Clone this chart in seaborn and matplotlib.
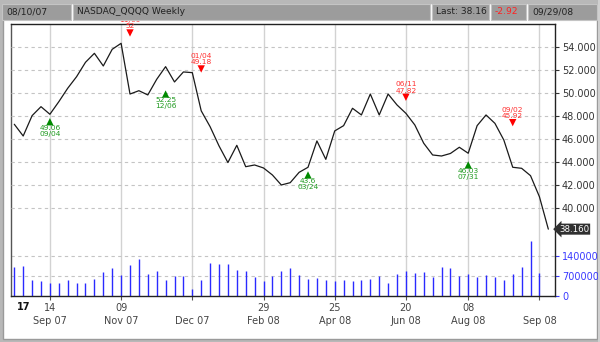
import numpy as np
import pandas as pd
import matplotlib
matplotlib.use("Agg")
import matplotlib.pyplot as plt
import seaborn as sns
from matplotlib.patches import Rectangle

# ---------------- data ----------------
week = list(range(61))
price = [47.28, 46.26, 48.03, 48.81, 48.15, 49.24, 50.41, 51.42, 52.67, 53.45,
         52.35, 53.80, 54.32, 49.91, 50.20, 49.83, 51.19, 52.29, 50.96, 51.83,
         51.77, 48.45, 47.07, 45.40, 43.95, 45.45, 43.59, 43.74, 43.48, 42.87,
         42.00, 42.20, 43.10, 43.54, 45.83, 44.23, 46.70, 47.16, 48.67, 48.09,
         49.91, 48.09, 49.91, 48.96, 48.23, 47.22, 45.63, 44.61, 44.52, 44.74,
         45.28, 44.76, 47.16, 48.09, 47.36, 45.91, 43.54, 43.45, 42.81, 40.98,
         38.16]
volume = [1010000, 1060000, 560000, 520000, 460000, 460000, 550000, 440000, 460000, 600000,
          850000, 990000, 730000, 1100000, 1290000, 760000, 890000, 550000, 690000, 690000,
          220000, 550000, 1160000, 1140000, 1140000, 920000, 890000, 650000, 530000, 690000,
          860000, 970000, 730000, 580000, 630000, 550000, 530000, 570000, 530000, 550000,
          600000, 710000, 440000, 780000, 860000, 820000, 840000, 650000, 1030000, 980000,
          690000, 780000, 650000, 730000, 650000, 570000, 780000, 1030000, 1930000, 820000,
          0]

tick_pos = [4, 12, 20, 28, 36, 44, 51, 59]
tick_day = ["14", "09", "", "29", "25", "20", "08", ""]
tick_month = ["Sep 07", "Nov 07", "Dec 07", "Feb 08", "Apr 08", "Jun 08", "Aug 08", "Sep 08"]

sell_idx = [13, 21, 44, 56]
sell_y = [55.22, 52.09, 49.63, 47.42]
sell_date = ["11/09", "01/04", "06/11", "09/02"]
sell_val = ["52", "49.18", "47.82", "45.92"]

buy_idx = [4, 17, 33, 51]
buy_y = [47.50, 49.91, 42.87, 43.74]
buy_val = ["49.06", "52.25", "43.6", "46.03"]
buy_date = ["09/04", "12/06", "03/24", "07/31"]

price_ticks = [40, 42, 44, 46, 48, 50, 52, 54]
vol_ticks = [0, 700000, 1400000]
last_value = 38.16

header = ["08/10/07", "NASDAQ_QQQQ Weekly", "Last: 38.16", "-2.92", "09/29/08"]
header_colors = ["#222222", "#222222", "#222222", "#ff2222", "#222222"]

# ---------------- figure ----------------
sns.set_style("white")
plt.rcParams['font.family'] = ['DejaVu Sans']

W, H = 600, 342
fig = plt.figure(figsize=(6, 3.42), dpi=100, facecolor='#b8b8b8')

def fx(x):
    return x / W

def fy(y):
    return 1 - y / H

# white panel
fig.patches.append(Rectangle((fx(3), fy(339)), (597 - 3) / W, (339 - 3) / H,
                             transform=fig.transFigure, facecolor='white',
                             edgecolor='#9a9a9a', lw=1, zorder=-1))

# header cells
cells = [(2, 71), (73, 430), (432, 489), (491, 526), (528, 597)]
for (x0, x1), txt, col in zip(cells, header, header_colors):
    fig.patches.append(Rectangle((fx(x0), fy(19.5)), (x1 - x0) / W, 15.5 / H,
                                 transform=fig.transFigure, facecolor='#9c9c9c',
                                 edgecolor='#c4c4c4', lw=0.8, zorder=10))
    fig.text(fx(x0 + 4), fy(11.8), txt, color=col, fontsize=6.6,
             ha='left', va='center', zorder=11)
# strip above header
fig.patches.append(Rectangle((0, fy(4)), 1, 4 / H, transform=fig.transFigure,
                             facecolor='#b8b8b8', edgecolor='none', zorder=9))
# right clipping strip
fig.patches.append(Rectangle((fx(597.5), 0), 3 / W, 1, transform=fig.transFigure,
                             facecolor='#d0d0d0', edgecolor='none', zorder=10))

# axes
left, right, top, bottom = 11, 555, 24, 295.6
axv = fig.add_axes([fx(left), fy(bottom), (right - left) / W, (bottom - top) / H])
axp = axv.twinx()

axv.set_xlim(-0.37, 60.75)
axv.set_ylim(0, 9650000)
axp.set_ylim(32.38, 56.0)

# vertical grid
for p in tick_pos:
    axv.axvline(p, color='#d2d2d2', lw=1.0, zorder=0)
# horizontal dashed grids
for v in vol_ticks[1:]:
    axv.axhline(v, color='#c4c4c4', lw=0.8, ls=(0, (3, 3)), zorder=0.5)
for v in price_ticks:
    axp.axhline(v, color='#c4c4c4', lw=0.8, ls=(0, (3, 3)), zorder=0.5)

# volume bars
axv.vlines(week, 0, volume, color='#2a2aff', lw=1.0, zorder=2)

# price line
sns.lineplot(x=week, y=price, ax=axp, color='#1a1a1a', lw=0.9, zorder=3)

# signals
sns.scatterplot(x=sell_idx, y=sell_y, marker='v', color='#ff0000', s=28,
                 edgecolor='none', ax=axp, zorder=4)
sns.scatterplot(x=buy_idx, y=buy_y, marker='^', color='#008a00', s=28,
                 edgecolor='none', ax=axp, zorder=4)
for i, y, d, v in zip(sell_idx, sell_y, sell_date, sell_val):
    axp.annotate(d, (i, y), xytext=(0, 13), textcoords='offset pixels',
                 ha='center', va='center', fontsize=5.4, color='#ff3030')
    axp.annotate(v, (i, y), xytext=(0, 6.5), textcoords='offset pixels',
                 ha='center', va='center', fontsize=5.4, color='#ff3030')
for i, y, v, d in zip(buy_idx, buy_y, buy_val, buy_date):
    axp.annotate(v, (i, y), xytext=(0, -5.8), textcoords='offset pixels',
                 ha='center', va='center', fontsize=5.4, color='#1f9a1f')
    axp.annotate(d, (i, y), xytext=(0, -12), textcoords='offset pixels',
                 ha='center', va='center', fontsize=5.4, color='#1f9a1f')

# last value tag
axp.annotate(f"{last_value:.3f}", xy=(1, last_value), xycoords=('axes fraction', 'data'),
             xytext=(4, 0), textcoords='offset pixels', ha='left', va='center',
             fontsize=6.2, color='white',
             bbox=dict(boxstyle='larrow,pad=0.12', fc='#303030', ec='none'))

# ticks
axp.set_yticks(price_ticks)
axp.set_yticklabels([f"{v:.3f}" for v in price_ticks])
axp.tick_params(axis='y', right=True, length=3, width=0.8, pad=2,
                labelsize=7, labelcolor='#333333', color='#333333')
axp.set_ylabel("")

axv.yaxis.tick_right()
axv.set_yticks(vol_ticks)
axv.set_yticklabels([str(v) for v in vol_ticks])
axv.tick_params(axis='y', right=True, left=False, length=3, width=0.8, pad=2,
                labelsize=7, labelcolor='#3a3aff', color='#3a3aff')

axv.set_xticks(tick_pos)
axv.set_xticklabels([f"{d}\n{m}" for d, m in zip(tick_day, tick_month)],
                    linespacing=1.4)
axv.tick_params(axis='x', bottom=True, length=3, width=0.8, pad=2.5,
                labelsize=7, labelcolor='#444444', color='#555555')
axv.set_xlabel("")
axv.annotate("17", xy=(1, 0), xycoords=('data', 'axes fraction'),
             xytext=(0, -11.5), textcoords='offset pixels', ha='center',
             va='center', fontsize=7, fontweight='bold', color='#111111')

for ax in (axv, axp):
    for s in ax.spines.values():
        s.set_color('#222222')
        s.set_linewidth(1.0)
for s in axp.spines.values():
    s.set_visible(False)
axv.spines['left'].set_color('#555555')

fig.savefig("out.png", dpi=100, facecolor=fig.get_facecolor())
